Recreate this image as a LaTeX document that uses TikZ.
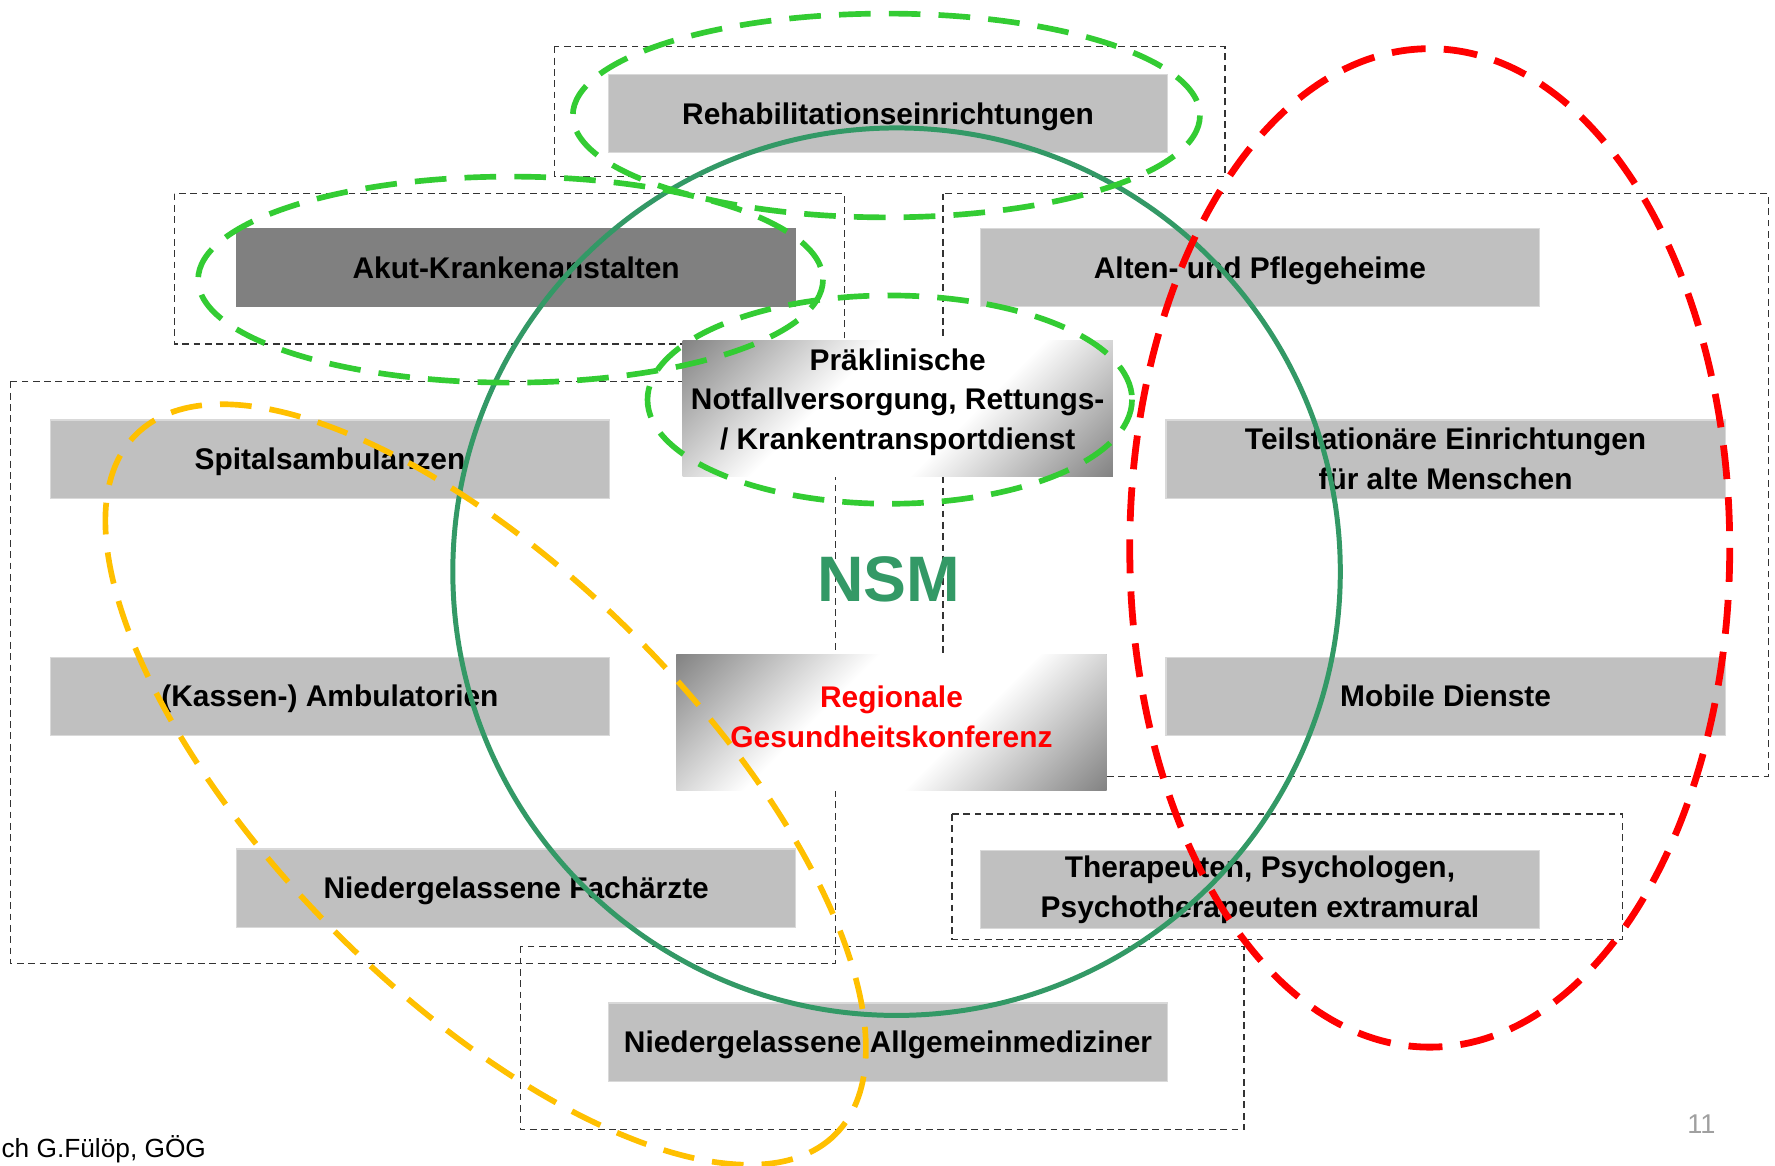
\documentclass[tikz,border=0pt]{standalone}
\usepackage{fontspec}
\setmainfont{Liberation Sans}
\usepackage{tikz}
\usetikzlibrary{calc}
\definecolor{frame}{HTML}{333333}
\definecolor{boxgray}{HTML}{C0C0C0}
\definecolor{boxdark}{HTML}{808080}
\definecolor{boxedge}{HTML}{D9D9D9}
\definecolor{nsmgreen}{HTML}{339966}
\definecolor{lime}{HTML}{33CC33}
\definecolor{amber}{HTML}{FFC000}
\definecolor{signal}{HTML}{FF0000}
\definecolor{pagegray}{HTML}{A0A0A0}
\pgfdeclareverticalshading{diagfade}{100bp}{color(0bp)=(boxdark); color(14bp)=(boxdark);
  color(40bp)=(white); color(60bp)=(white); color(86bp)=(boxdark); color(100bp)=(boxdark)}
\tikzset{
  grp/.style={draw=frame, line width=0.6pt, dash pattern=on 3pt off 2pt},
  inst/.style={draw=boxedge, line width=0.5pt, fill=boxgray, inner sep=0pt, align=center,
    minimum width=247pt, minimum height=34.5pt, font=\fontsize{13.2}{17.5}\selectfont\bfseries},
  instone/.style={inst, text height=9.4pt, text depth=0pt},
  instdark/.style={instone, fill=boxdark, draw=boxdark},
  instshade/.style={inst, draw=none, shading=diagfade, shading angle=45,
    minimum width=190pt, minimum height=60pt},
  nsmring/.style={draw=nsmgreen, line width=2.2pt},
  ringG/.style={draw=lime, line width=2.5pt, dash pattern=on 14pt off 8pt},
  ringY/.style={draw=amber, line width=2.5pt, dash pattern=on 14pt off 8pt},
  ringR/.style={draw=signal, line width=3pt, dash pattern=on 15pt off 8pt},
  lab/.style={inner sep=0pt}
}
\begin{document}
\begin{tikzpicture}[x=0.5pt, y=-0.5pt]
  \useasboundingbox (0,0) rectangle (1568,1030);
  \fill[white] (0,0) rectangle (1568,1030);

  % sector frames
  \draw[grp] (490,41) rectangle (1082,156);
  \draw[grp] (154,171) rectangle (746,304);
  \draw[grp] (9,337) rectangle (738,851);
  \draw[grp] (833,171) rectangle (1562,686);
  \draw[grp] (841,719) rectangle (1433,830);
  \draw[grp] (460,836) rectangle (1099,998);

  % institutions
  \node[instone] (rehab) at (784.5,100.5) {Rehabilitationseinrichtungen};
  \node[instdark] (akut) at (456,236.5) {Akut-Krankenanstalten};
  \node[instone] (alten) at (1113,236.5) {Alten- und Pflegeheime};
  \node[instshade] (prae) at (793,360.5) {Präklinische\\Notfallversorgung, Rettungs-\\/ Krankentransportdienst\rule[-8pt]{0pt}{0pt}};
  \node[instone] (spital) at (291.5,405.5) {Spitalsambulanzen};
  \node[inst] (teil) at (1277,405.5) {Teilstationäre Einrichtungen\\für alte Menschen};
  \node[instone] (kassen) at (291.5,615) {(Kassen-) Ambulatorien};
  \node[instone] (mobil) at (1277,615) {Mobile Dienste};
  \node[instshade, text=signal] (regio) at (787.5,638) {Regionale\\Gesundheitskonferenz\rule[-5pt]{0pt}{0pt}};
  \node[instone] (fach) at (456,784.5) {Niedergelassene Fachärzte};
  \node[inst] (thera) at (1113,786) {Therapeuten, Psychologen,\\Psychotherapeuten extramural};
  \node[instone] (allg) at (784.5,920.5) {Niedergelassene Allgemeinmediziner};

  \node[lab, text=nsmgreen, font=\fontsize{28.4}{30}\selectfont\bfseries] (nsm) at (785,512) {NSM};

  % overlapping areas
  \draw[nsmring] (792,505) circle (392);
  \draw[ringG] (783,102) ellipse (277 and 90);
  \draw[ringG] (451,247) ellipse (276 and 91);
  \draw[ringG] (786,353) ellipse (214 and 92);
  \draw[ringY, rotate around={-45:(429,693)}] (429,693) ellipse (437 and 186);
  \draw[ringR] (1263,484) ellipse (265 and 441);

  \node[lab, anchor=west, font=\fontsize{11.6}{14}\selectfont] (src) at (1,1015) {ch G.Fülöp, GÖG};
  \node[lab, text=pagegray, font=\fontsize{12}{14}\selectfont] (pgno) at (1503,993) {11};
\end{tikzpicture}
\end{document}
